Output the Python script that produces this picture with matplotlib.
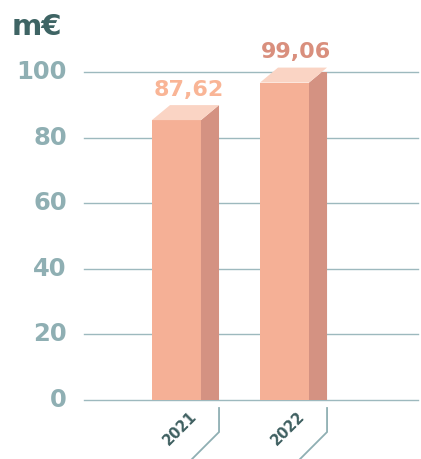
import matplotlib
matplotlib.use("Agg")
import matplotlib.pyplot as plt
from matplotlib.patches import Polygon

categories = ["2021", "2022"]
values = [87.62, 99.06]
value_labels = ["87,62", "99,06"]
yticks = [0, 20, 40, 60, 80, 100]
unit_label = "m€"

W, H = 421, 459
fig = plt.figure(figsize=(W / 100, H / 100), dpi=100)
ax = fig.add_axes([84 / W, 59 / H, 334 / W, 328 / H])
ax.set_xlim(-0.856, 2.236)
ax.set_ylim(0, 100)
for s in ax.spines.values():
    s.set_visible(False)
ax.set_xticks([])
ax.set_yticks([])

grid_c = "#9DB9BE"
for t in yticks:
    ax.axhline(t, color=grid_c, lw=1.0, zorder=1, clip_on=False)
    ax.text(-0.052, t, str(t), transform=ax.get_yaxis_transform(), ha="right",
            va="center", fontsize=17.5, fontweight="bold", color="#8FAFB3")

fig.text(12 / W, 1 - 27 / H, unit_label, fontsize=21, fontweight="bold",
         color="#3E6464", va="center", ha="left")

front_c = "#F5B096"
side_c = "#D49282"
top_c = "#FAD4C4"
label_cols = ["#F9B596", "#D98F7D"]
hw = 0.227   # half width of front face
dx = 0.167   # depth x
dy = 4.57    # depth y (data units)

for i, (cat, v, lab) in enumerate(zip(categories, values, value_labels)):
    top = v - dy / 2
    x0, x1 = i - hw, i + hw
    ax.add_patch(Polygon([(x0, 0), (x1, 0), (x1, top), (x0, top)], closed=True,
                         fc=front_c, ec="none", zorder=3))
    ax.add_patch(Polygon([(x1, 0), (x1 + dx, 0), (x1 + dx, top + dy), (x1, top)],
                         closed=True, fc=side_c, ec="none", zorder=3))
    ax.add_patch(Polygon([(x0, top), (x1, top), (x1 + dx, top + dy), (x0 + dx, top + dy)],
                         closed=True, fc=top_c, ec="none", zorder=3, clip_on=False))
    ax.text(i + 0.11, v + 7.0, lab, ha="center", va="center", fontsize=16,
            fontweight="bold", color=label_cols[i], clip_on=False)
    # x label bracket
    xb = x1 + dx
    ax.plot([xb, xb, xb - 0.25], [-2.44, -9.76, -18.0], color="#8FAFB3", lw=1.3,
            clip_on=False, solid_joinstyle="miter")
    ax.text(i + 0.03, -8.8, cat, rotation=45, ha="center", va="center",
            fontsize=10.5, fontweight="bold", color="#3E5F60", clip_on=False,
            rotation_mode="anchor")

fig.savefig("out.png", dpi=100)
